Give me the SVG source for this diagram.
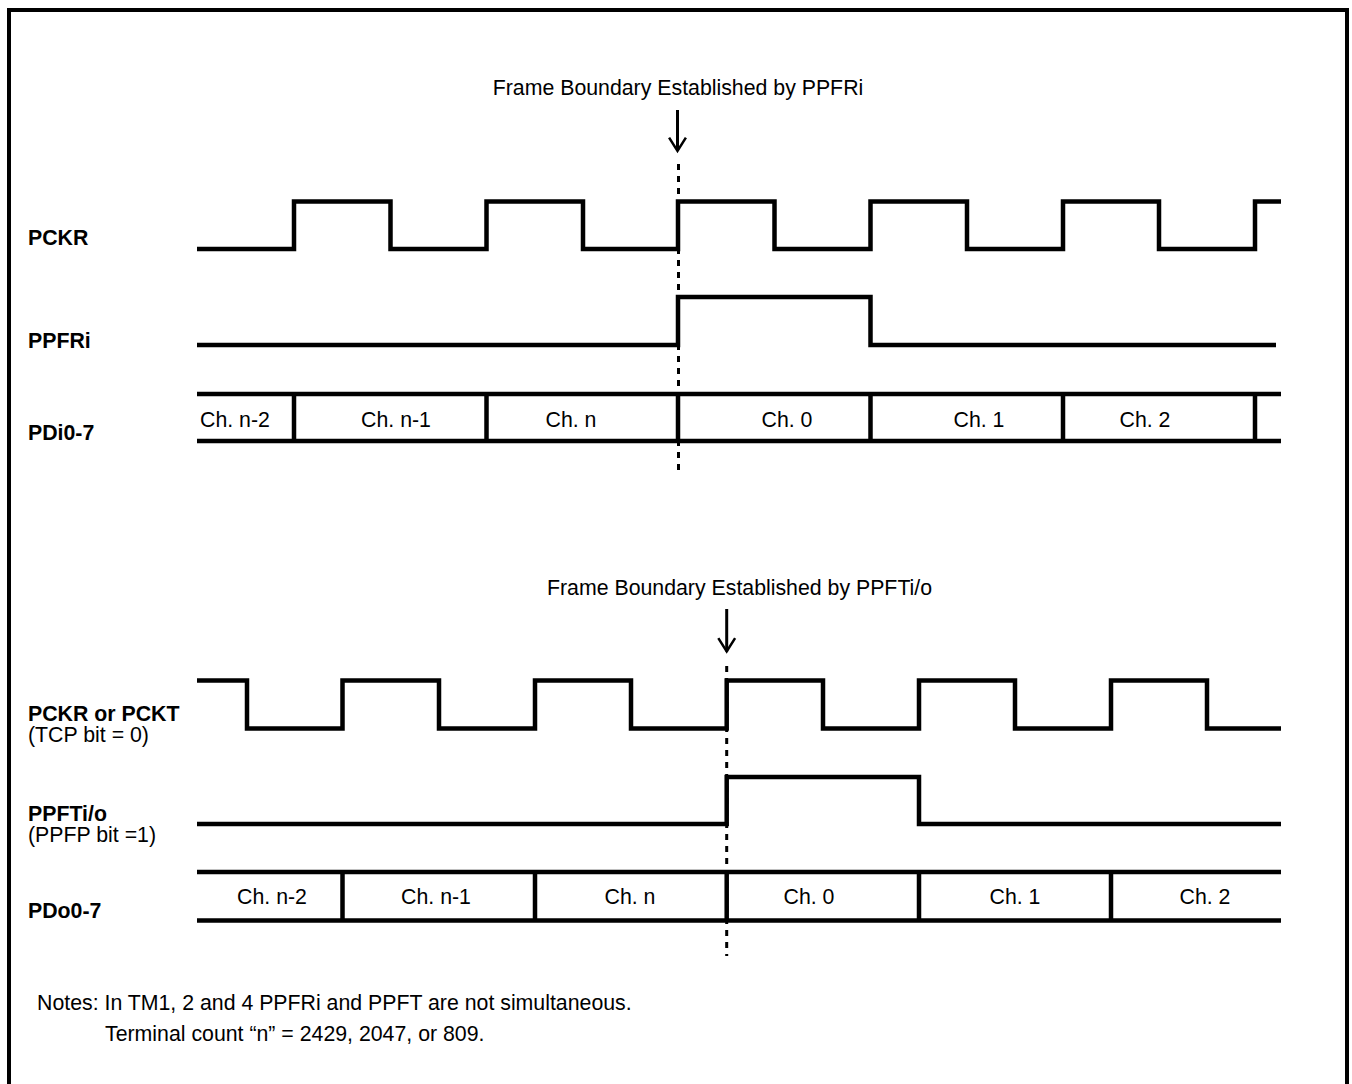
<svg xmlns="http://www.w3.org/2000/svg" width="1352" height="1084" viewBox="0 0 1352 1084">
<style>
  .frame{fill:none;stroke:#000;stroke-width:4}
  .wave{fill:none;stroke:#000;stroke-width:4.5;stroke-linejoin:miter;stroke-linecap:butt}
  .dot{fill:none;stroke:#000;stroke-width:3;stroke-dasharray:6 6}
  .arrow{fill:none;stroke:#000;stroke-width:3;marker-end:url(#vhead)}
  .t{font-family:"Liberation Sans",Arial,sans-serif;font-size:21.3px;fill:#000}
  .b{font-weight:bold}
  .c{text-anchor:middle}
</style>
<defs>
  <marker id="vhead" markerUnits="userSpaceOnUse" viewBox="-16 -10 18 20" markerWidth="18" markerHeight="20" refX="0" refY="0" orient="auto" overflow="visible">
    <path d="M-13.4,-8.4 L0,0 L-13.4,8.4" fill="none" stroke="#000" stroke-width="2.5"/>
  </marker>
</defs>
<rect width="1352" height="1084" fill="#fff"/>
<rect class="frame" x="9" y="10" width="1338" height="1100"/>

<g id="top-section">
  <text class="t c" x="678" y="95">Frame Boundary Established by PPFRi</text>
  <g id="label-pckr"><text class="t b" x="28" y="245">PCKR</text></g>
  <g id="label-ppfri"><text class="t b" x="28" y="348">PPFRi</text></g>
  <g id="label-pdi"><text class="t b" x="28" y="440">PDi0-7</text></g>
  <g id="wave-pckr"><path class="wave" d="M197,249 H294 V201.5 H390.5 V249 H486.5 V201.5 H583 V249 H678 V201.5 H774.5 V249 H870.5 V201.5 H967 V249 H1063 V201.5 H1159 V249 H1255 V201.5 H1281"/></g>
  <g id="wave-ppfri"><path class="wave" d="M197,345 H678 V297 H870.5 V345 H1276"/></g>
  <g id="bus-pdi">
    <path class="wave" d="M197,394 H1281 M197,441 H1281 M294,394 V441 M486.5,394 V441 M678,394 V441 M870.5,394 V441 M1063,394 V441 M1255,394 V441"/>
    <text class="t" x="200" y="426.5">Ch. n-2</text>
    <text class="t c" x="396" y="426.5">Ch. n-1</text>
    <text class="t c" x="571" y="426.5">Ch. n</text>
    <text class="t c" x="787" y="426.5">Ch. 0</text>
    <text class="t c" x="979" y="426.5">Ch. 1</text>
    <text class="t c" x="1145" y="426.5">Ch. 2</text>
  </g>
</g>

<g id="bottom-section">
  <text class="t" x="547" y="595">Frame Boundary Established by PPFTi/o</text>
  <g id="label-pckt"><text class="t b" x="28" y="721">PCKR or PCKT</text><text class="t" x="28" y="742">(TCP bit = 0)</text></g>
  <g id="label-ppft"><text class="t b" x="28" y="821">PPFTi/o</text><text class="t" x="28" y="842">(PPFP bit =1)</text></g>
  <g id="label-pdo"><text class="t b" x="28" y="918">PDo0-7</text></g>
  <g id="wave-pckt"><path class="wave" d="M197,680.5 H247 V728.5 H342.5 V680.5 H439 V728.5 H535 V680.5 H631 V728.5 H726.7 V680.5 H823 V728.5 H919 V680.5 H1015 V728.5 H1111 V680.5 H1207 V728.5 H1281"/></g>
  <g id="wave-ppft"><path class="wave" d="M197,824 H726.7 V777 H919 V824 H1281"/></g>
  <g id="bus-pdo">
    <path class="wave" d="M197,872 H1281 M197,920.5 H1281 M342.5,872 V920.5 M535,872 V920.5 M726.7,872 V920.5 M919,872 V920.5 M1111,872 V920.5"/>
    <text class="t c" x="272" y="903.5">Ch. n-2</text>
    <text class="t c" x="436" y="903.5">Ch. n-1</text>
    <text class="t c" x="630" y="903.5">Ch. n</text>
    <text class="t c" x="809" y="903.5">Ch. 0</text>
    <text class="t c" x="1015" y="903.5">Ch. 1</text>
    <text class="t c" x="1205" y="903.5">Ch. 2</text>
  </g>
</g>

<g id="connectors">
  <line class="arrow" x1="677.5" y1="110" x2="677.5" y2="151"/>
  <line class="dot" x1="678.5" y1="164" x2="678.5" y2="470"/>
  <line class="arrow" x1="726.7" y1="609" x2="726.7" y2="651.5"/>
  <line class="dot" x1="726.7" y1="666" x2="726.7" y2="956"/>
</g>

<g id="notes">
  <text class="t" x="37" y="1010">Notes: In TM1, 2 and 4 PPFRi and PPFT are not simultaneous.</text>
  <text class="t" x="105" y="1041">Terminal count “n” = 2429, 2047, or 809.</text>
</g>
</svg>
